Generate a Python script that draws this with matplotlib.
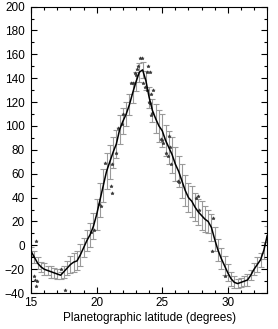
import matplotlib
matplotlib.use("Agg")
import matplotlib.pyplot as plt
from matplotlib.ticker import MultipleLocator

plt.rcParams["font.family"] = ["Liberation Sans", "DejaVu Sans"]

# Binned mean profile (every 0.25 degrees)
lat_bins = [15.0, 15.25, 15.5, 15.75, 16.0, 16.25, 16.5, 16.75, 17.0, 17.25,
            17.5, 17.75, 18.0, 18.25, 18.5, 18.75, 19.0, 19.25, 19.5, 19.75,
            20.0, 20.25, 20.5, 20.75, 21.0, 21.25, 21.5, 21.75, 22.0, 22.25,
            22.5, 22.75, 23.0, 23.25, 23.5, 23.75, 24.0, 24.25, 24.5, 24.75,
            25.0, 25.25, 25.5, 25.75, 26.0, 26.25, 26.5, 26.75, 27.0, 27.25,
            27.5, 27.75, 28.0, 28.25, 28.5, 28.75, 29.0, 29.25, 29.5, 29.75,
            30.0, 30.25, 30.5, 30.75, 31.0, 31.25, 31.5, 31.75, 32.0, 32.25,
            32.5, 32.75, 33.0]
mean_wind = [-5, -10, -15, -18, -20, -21, -22, -23, -24, -25,
             -22, -19, -16, -14, -13, -8, -2, 4, 9, 16,
             26, 38, 50, 62, 70, 78, 85, 97, 104, 110,
             118, 128, 137, 145, 147, 138, 124, 113, 106, 100,
             96, 88, 82, 76, 68, 62, 54, 46, 40, 37,
             32, 28, 25, 22, 20, 15, 5, -4, -11, -17,
             -23, -28, -31, -32, -31, -30, -29, -25, -20, -16,
             -12, -4, 8]
wind_err = [4, 5, 5, 4, 5, 4, 5, 4, 4, 3,
            5, 6, 7, 8, 8, 9, 8, 9, 10, 11,
            13, 14, 14, 15, 14, 13, 12, 12, 11, 10,
            9, 9, 8, 8, 7, 8, 9, 10, 12, 13,
            14, 13, 14, 15, 14, 13, 14, 13, 12, 13,
            12, 11, 12, 11, 10, 11, 10, 9, 9, 8,
            7, 6, 5, 4, 4, 4, 5, 4, 5, 6,
            6, 7, 8]

# Individual measurements
pt_lat = [15.36, 15.25, 15.30, 15.46, 15.40, 17.60, 17.27, 19.57, 19.80, 20.20,
          20.30, 20.67, 21.10, 21.20, 21.20, 21.50, 21.60, 21.90, 22.00, 22.64,
          22.76, 22.90, 23.00, 23.07, 23.15, 23.33, 23.48, 23.53, 23.66, 23.80,
          23.84, 23.90, 24.10, 23.99, 24.10, 24.17, 24.25, 24.17, 24.30, 24.90,
          25.06, 25.00, 25.50, 25.57, 25.30, 25.45, 25.70, 26.20, 26.30, 27.60,
          27.70, 27.80, 28.90, 28.80, 29.80]
pt_wind = [4, -26, -29, -30, -34, -37, -20, 11, 13, 35,
           33, 69, 50, 44, 68, 77, 98, 102, 110, 136,
           136, 144, 143, 148, 150, 157, 157, 136, 133, 130,
           145, 150, 145, 120, 119, 127, 111, 109, 130, 89,
           86, 88, 92, 82, 77, 75, 68, 54, 53, 40,
           41, 30, 23, -5, -26]

fig = plt.figure(figsize=(2.78, 3.29), dpi=100)
ax = fig.add_axes([0.112, 0.109, 0.849, 0.871])

ax.errorbar(lat_bins, mean_wind, yerr=wind_err, fmt="none", ecolor="#9a9a9a",
            elinewidth=0.8, capsize=2.2, capthick=0.8, zorder=1)
ax.plot(lat_bins, mean_wind, color="black", linewidth=1.1, zorder=3)
ax.plot(pt_lat, pt_wind, linestyle="none", marker="*", markersize=2.5,
        color="#383838", markeredgewidth=0.4, zorder=2)

ax.set_xlim(15, 33)
ax.set_ylim(-40, 200)
ax.xaxis.set_major_locator(MultipleLocator(5))
ax.xaxis.set_minor_locator(MultipleLocator(1))
ax.yaxis.set_major_locator(MultipleLocator(20))
ax.yaxis.set_minor_locator(MultipleLocator(10))
ax.tick_params(which="both", direction="in", top=True, right=True,
               labelsize=8.5, width=0.8)
ax.tick_params(axis="y", pad=4.5)
ax.tick_params(axis="x", pad=3)
ax.tick_params(which="major", length=4)
ax.tick_params(which="minor", length=2.2)
for sp in ax.spines.values():
    sp.set_linewidth(0.8)
ax.set_xlabel("Planetographic latitude (degrees)", fontsize=8.5, labelpad=2)

fig.savefig("out.png", dpi=100)
